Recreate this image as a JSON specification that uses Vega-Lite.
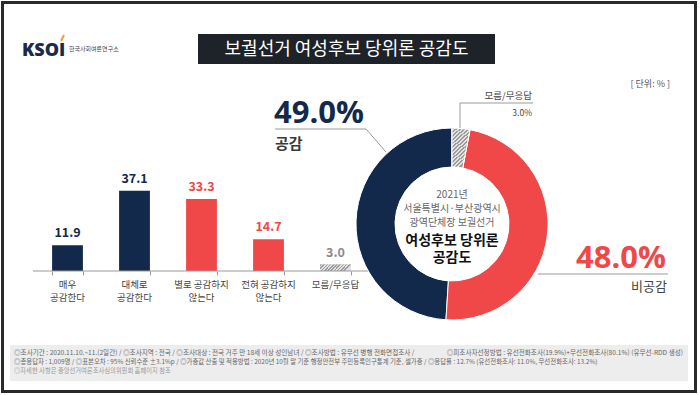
{
  "$schema": "https://vega.github.io/schema/vega-lite/v6.json",
  "width": 700,
  "height": 395,
  "autosize": {"type": "none"},
  "padding": 0,
  "background": "white",
  "config": {"view": {"stroke": null}, "font": "Noto Sans CJK KR", "text": {"font": "Noto Sans CJK KR"}},
  "datasets": {
    "bars": [
      {"category": "매우\n공감한다", "value": 11.9, "group": "공감"},
      {"category": "대체로\n공감한다", "value": 37.1, "group": "공감"},
      {"category": "별로 공감하지\n않는다", "value": 33.3, "group": "비공감"},
      {"category": "전혀 공감하지\n않는다", "value": 14.7, "group": "비공감"},
      {"category": "모름/무응답", "value": 3.0, "group": "모름/무응답"}
    ],
    "donut": [
      {"group": "공감", "pct": 49.0},
      {"group": "비공감", "pct": 48.0},
      {"group": "모름/무응답", "pct": 3.0}
    ]
  },
  "layer": [
    {"data": {"values": [{}]}, "mark": {"type": "rect", "x": 10, "y": 345, "x2": 688, "y2": 381, "fill": "#ededed"}, "encoding": {}},
    {"data": {"values": [{}]}, "mark": {"type": "rect", "x": 198, "y": 34, "x2": 495, "y2": 64, "fill": "#1e2229"}, "encoding": {}},
    {"data": {"values": [{}]}, "mark": {"type": "text", "x": 346.5, "y": 49.5, "align": "center", "baseline": "middle", "fontSize": 18, "fill": "white", "text": "보궐선거 여성후보 당위론 공감도"}, "encoding": {}},
    {"data": {"values": [{}]}, "mark": {"type": "text", "x": 22, "y": 51, "align": "left", "baseline": "middle", "fontSize": 18, "fontWeight": 900, "font": "Open Sans", "fill": "#1b2a4a", "text": "KSOI"}, "encoding": {}},
    {"data": {"values": [{}]}, "mark": {"type": "rule", "stroke": "#f0a020", "strokeWidth": 2}, "encoding": {"x": {"value": 61}, "y": {"value": 41}, "x2": {"value": 64}, "y2": {"value": 35}}},
    {"data": {"values": [{}]}, "mark": {"type": "text", "x": 69, "y": 49, "align": "left", "baseline": "middle", "fontSize": 6, "fill": "#444", "text": "한국사회여론연구소"}, "encoding": {}},
    {"data": {"values": [{}]}, "mark": {"type": "text", "x": 670, "y": 84, "align": "right", "baseline": "middle", "fontSize": 9, "fill": "#555", "text": "[ 단위: % ]"}, "encoding": {}},
    {
      "data": {"name": "bars"},
      "mark": {"type": "bar"},
      "encoding": {
        "x": {"field": "category", "type": "nominal", "sort": null,
          "scale": {"range": [34, 369], "paddingInner": 0.54, "paddingOuter": 0.27},
          "axis": {"labels": false, "title": null, "domain": false, "ticks": true, "grid": false, "tickColor": "#9a9a9a", "tickBand": "extent", "tickSize": 4, "offset": -124}},
        "y": {"field": "value", "type": "quantitative", "scale": {"domain": [0, 100], "range": [271, 55]}, "axis": null},
        "color": {"field": "group", "type": "nominal", "scale": {"domain": ["공감", "비공감", "모름/무응답"], "range": ["#13294b", "#f04848", "#b9b9b9"]}, "legend": null}
      }
    },
    {
      "data": {"name": "bars"},
      "transform": [{"filter": "datum.group === '모름/무응답'"}],
      "mark": {"type": "bar", "fill": {"gradient": "linear", "x1": 0, "y1": 0, "x2": 1, "y2": 0.2, "stops": [
        {"offset": 0, "color": "#9c9c9c"}, {"offset": 0.05, "color": "#9c9c9c"}, {"offset": 0.05, "color": "#e2e2e2"}, {"offset": 0.1, "color": "#e2e2e2"},
        {"offset": 0.1, "color": "#9c9c9c"}, {"offset": 0.15, "color": "#9c9c9c"}, {"offset": 0.15, "color": "#e2e2e2"}, {"offset": 0.2, "color": "#e2e2e2"},
        {"offset": 0.2, "color": "#9c9c9c"}, {"offset": 0.25, "color": "#9c9c9c"}, {"offset": 0.25, "color": "#e2e2e2"}, {"offset": 0.3, "color": "#e2e2e2"},
        {"offset": 0.3, "color": "#9c9c9c"}, {"offset": 0.35, "color": "#9c9c9c"}, {"offset": 0.35, "color": "#e2e2e2"}, {"offset": 0.4, "color": "#e2e2e2"},
        {"offset": 0.4, "color": "#9c9c9c"}, {"offset": 0.45, "color": "#9c9c9c"}, {"offset": 0.45, "color": "#e2e2e2"}, {"offset": 0.5, "color": "#e2e2e2"},
        {"offset": 0.5, "color": "#9c9c9c"}, {"offset": 0.55, "color": "#9c9c9c"}, {"offset": 0.55, "color": "#e2e2e2"}, {"offset": 0.6, "color": "#e2e2e2"},
        {"offset": 0.6, "color": "#9c9c9c"}, {"offset": 0.65, "color": "#9c9c9c"}, {"offset": 0.65, "color": "#e2e2e2"}, {"offset": 0.7, "color": "#e2e2e2"},
        {"offset": 0.7, "color": "#9c9c9c"}, {"offset": 0.75, "color": "#9c9c9c"}, {"offset": 0.75, "color": "#e2e2e2"}, {"offset": 0.8, "color": "#e2e2e2"},
        {"offset": 0.8, "color": "#9c9c9c"}, {"offset": 0.85, "color": "#9c9c9c"}, {"offset": 0.85, "color": "#e2e2e2"}, {"offset": 0.9, "color": "#e2e2e2"},
        {"offset": 0.9, "color": "#9c9c9c"}, {"offset": 0.95, "color": "#9c9c9c"}, {"offset": 0.95, "color": "#e2e2e2"}, {"offset": 1, "color": "#e2e2e2"}
      ]}},
      "encoding": {
        "x": {"field": "category", "type": "nominal", "sort": null},
        "y": {"field": "value", "type": "quantitative"}
      }
    },
    {"data": {"values": [{}]}, "mark": {"type": "rule", "stroke": "#9a9a9a", "strokeWidth": 1.2}, "encoding": {"x": {"value": 33}, "x2": {"value": 372}, "y": {"datum": 0, "type": "quantitative"}}},
    {
      "data": {"name": "bars"},
      "mark": {"type": "text", "baseline": "bottom", "dy": -5, "fontSize": 12.5, "fontWeight": "bold"},
      "encoding": {
        "x": {"field": "category", "type": "nominal", "sort": null},
        "y": {"field": "value", "type": "quantitative"},
        "text": {"field": "value", "type": "quantitative", "format": ".1f"},
        "color": {"condition": {"test": "datum.group === '모름/무응답'", "value": "#8a8a8a"}, "field": "group", "type": "nominal"}
      }
    },
    {
      "data": {"name": "bars"},
      "mark": {"type": "text", "baseline": "top", "dy": 9, "fontSize": 9.5, "lineBreak": "\n", "lineHeight": 12.5, "fill": "#444"},
      "encoding": {
        "x": {"field": "category", "type": "nominal", "sort": null},
        "y": {"datum": 0, "type": "quantitative"},
        "text": {"field": "category", "type": "nominal"}
      }
    },
    {
      "data": {"name": "donut"},
      "mark": {"type": "arc", "x": 452, "y": 224, "outerRadius": 96, "innerRadius": 57, "stroke": "white", "strokeWidth": 1},
      "encoding": {
        "theta": {"field": "pct", "type": "quantitative", "stack": true},
        "order": {"field": "pct", "type": "quantitative", "sort": "ascending"},
        "color": {"field": "group", "type": "nominal"}
      }
    },
    {
      "data": {"name": "donut"},
      "mark": {"type": "arc", "x": 452, "y": 224, "outerRadius": 96, "innerRadius": 57, "stroke": "white", "strokeWidth": 1,
        "fill": {"gradient": "linear", "x1": 0, "y1": 0, "x2": 0.4, "y2": 1, "stops": [
          {"offset": 0, "color": "#9c9c9c"}, {"offset": 0.04, "color": "#9c9c9c"}, {"offset": 0.04, "color": "#e2e2e2"}, {"offset": 0.08, "color": "#e2e2e2"},
          {"offset": 0.08, "color": "#9c9c9c"}, {"offset": 0.12, "color": "#9c9c9c"}, {"offset": 0.12, "color": "#e2e2e2"}, {"offset": 0.16, "color": "#e2e2e2"},
          {"offset": 0.16, "color": "#9c9c9c"}, {"offset": 0.2, "color": "#9c9c9c"}, {"offset": 0.2, "color": "#e2e2e2"}, {"offset": 0.24, "color": "#e2e2e2"},
          {"offset": 0.24, "color": "#9c9c9c"}, {"offset": 0.28, "color": "#9c9c9c"}, {"offset": 0.28, "color": "#e2e2e2"}, {"offset": 0.32, "color": "#e2e2e2"},
          {"offset": 0.32, "color": "#9c9c9c"}, {"offset": 0.36, "color": "#9c9c9c"}, {"offset": 0.36, "color": "#e2e2e2"}, {"offset": 0.4, "color": "#e2e2e2"},
          {"offset": 0.4, "color": "#9c9c9c"}, {"offset": 0.44, "color": "#9c9c9c"}, {"offset": 0.44, "color": "#e2e2e2"}, {"offset": 0.48, "color": "#e2e2e2"},
          {"offset": 0.48, "color": "#9c9c9c"}, {"offset": 0.52, "color": "#9c9c9c"}, {"offset": 0.52, "color": "#e2e2e2"}, {"offset": 0.56, "color": "#e2e2e2"},
          {"offset": 0.56, "color": "#9c9c9c"}, {"offset": 0.6, "color": "#9c9c9c"}, {"offset": 0.6, "color": "#e2e2e2"}, {"offset": 0.64, "color": "#e2e2e2"},
          {"offset": 0.64, "color": "#9c9c9c"}, {"offset": 0.68, "color": "#9c9c9c"}, {"offset": 0.68, "color": "#e2e2e2"}, {"offset": 0.72, "color": "#e2e2e2"},
          {"offset": 0.72, "color": "#9c9c9c"}, {"offset": 0.76, "color": "#9c9c9c"}, {"offset": 0.76, "color": "#e2e2e2"}, {"offset": 0.8, "color": "#e2e2e2"},
          {"offset": 0.8, "color": "#9c9c9c"}, {"offset": 0.84, "color": "#9c9c9c"}, {"offset": 0.84, "color": "#e2e2e2"}, {"offset": 0.88, "color": "#e2e2e2"},
          {"offset": 0.88, "color": "#9c9c9c"}, {"offset": 0.92, "color": "#9c9c9c"}, {"offset": 0.92, "color": "#e2e2e2"}, {"offset": 0.96, "color": "#e2e2e2"},
          {"offset": 0.96, "color": "#9c9c9c"}, {"offset": 1, "color": "#9c9c9c"}
        ]}},
      "encoding": {
        "theta": {"field": "pct", "type": "quantitative", "stack": true},
        "order": {"field": "pct", "type": "quantitative", "sort": "ascending"},
        "opacity": {"condition": {"test": "datum.group === '모름/무응답'", "value": 1}, "value": 0}
      }
    },
    {"data": {"values": [{}]}, "mark": {"type": "rule", "stroke": "#9a9a9a", "strokeWidth": 1}, "encoding": {"x": {"value": 275}, "y": {"value": 129}, "x2": {"value": 366}, "y2": {"value": 129}}},
    {"data": {"values": [{}]}, "mark": {"type": "rule", "stroke": "#9a9a9a", "strokeWidth": 1}, "encoding": {"x": {"value": 366}, "y": {"value": 129}, "x2": {"value": 386}, "y2": {"value": 152}}},
    {"data": {"values": [{}]}, "mark": {"type": "rule", "stroke": "#9a9a9a", "strokeWidth": 1}, "encoding": {"x": {"value": 538}, "y": {"value": 274}, "x2": {"value": 668}, "y2": {"value": 274}}},
    {"data": {"values": [{}]}, "mark": {"type": "rule", "stroke": "#9a9a9a", "strokeWidth": 1}, "encoding": {"x": {"value": 460}, "y": {"value": 128}, "x2": {"value": 460}, "y2": {"value": 103}}},
    {"data": {"values": [{}]}, "mark": {"type": "rule", "stroke": "#9a9a9a", "strokeWidth": 1}, "encoding": {"x": {"value": 460}, "y": {"value": 103}, "x2": {"value": 533}, "y2": {"value": 103}}},
    {"data": {"values": [{}]}, "mark": {"type": "text", "x": 274, "y": 123, "align": "left", "baseline": "alphabetic", "fontSize": 31, "fontWeight": "bold", "font": "Open Sans", "fill": "#13294b", "text": "49.0%"}, "encoding": {}},
    {"data": {"values": [{}]}, "mark": {"type": "text", "x": 275, "y": 143.5, "align": "left", "baseline": "middle", "fontSize": 15, "fontWeight": "bold", "fill": "#3a3a3a", "text": "공감"}, "encoding": {}},
    {"data": {"values": [{}]}, "mark": {"type": "text", "x": 666, "y": 268, "align": "right", "baseline": "alphabetic", "fontSize": 31, "fontWeight": "bold", "font": "Open Sans", "fill": "#f04848", "text": "48.0%"}, "encoding": {}},
    {"data": {"values": [{}]}, "mark": {"type": "text", "x": 667, "y": 287, "align": "right", "baseline": "middle", "fontSize": 13, "fill": "#444", "text": "비공감"}, "encoding": {}},
    {"data": {"values": [{}]}, "mark": {"type": "text", "x": 532, "y": 96, "align": "right", "baseline": "middle", "fontSize": 9.5, "fill": "#444", "text": "모름/무응답"}, "encoding": {}},
    {"data": {"values": [{}]}, "mark": {"type": "text", "x": 532, "y": 112.5, "align": "right", "baseline": "middle", "fontSize": 8.5, "fill": "#444", "text": "3.0%"}, "encoding": {}},
    {"data": {"values": [{}]}, "mark": {"type": "text", "x": 452, "y": 195, "align": "center", "baseline": "middle", "fontSize": 10, "lineBreak": "\n", "lineHeight": 13.8, "fill": "#666", "text": "2021년\n서울특별시·부산광역시\n광역단체장 보궐선거"}, "encoding": {}},
    {"data": {"values": [{}]}, "mark": {"type": "text", "x": 452, "y": 241, "align": "center", "baseline": "middle", "fontSize": 14, "fontWeight": "bold", "lineBreak": "\n", "lineHeight": 16.5, "fill": "#111", "text": "여성후보 당위론\n공감도"}, "encoding": {}},
    {"data": {"values": [{}]}, "mark": {"type": "text", "x": 14, "y": 353, "align": "left", "baseline": "middle", "fontSize": 6.6, "fill": "#666", "text": "◎조사기간 : 2020.11.10.~11.(2일간)   / ◎조사지역 : 전국 / ◎조사대상 : 전국 거주 만 18세 이상 성인남녀 / ◎조사방법 : 유무선 병행 전화면접조사 /"}, "encoding": {}},
    {"data": {"values": [{}]}, "mark": {"type": "text", "x": 683, "y": 353, "align": "right", "baseline": "middle", "fontSize": 6.6, "fill": "#666", "text": "◎피조사자선정방법 : 유선전화조사(19.9%)+무선전화조사(80.1%)   (유무선-RDD 생성)"}, "encoding": {}},
    {"data": {"values": [{}]}, "mark": {"type": "text", "x": 14, "y": 362, "align": "left", "baseline": "middle", "fontSize": 6.4, "fill": "#666", "text": "◎총응답자 : 1,009명 / ◎표본오차 : 95% 신뢰수준 ±3.1%p / ◎가중값 산출 및 적용방법 : 2020년 10월 말 기준 행정안전부 주민등록인구통계 기준, 셀가중 / ◎응답률 : 12.7% (유선전화조사: 11.0%, 무선전화조사: 13.2%)"}, "encoding": {}},
    {"data": {"values": [{}]}, "mark": {"type": "text", "x": 14, "y": 371, "align": "left", "baseline": "middle", "fontSize": 6.3, "fill": "#999", "text": "◎자세한 사항은 중앙선거여론조사심의위원회 홈페이지 참조"}, "encoding": {}},
    {"data": {"values": [{}]}, "mark": {"type": "rect", "x": 2.5, "y": 2.5, "x2": 695.5, "y2": 391.5, "fill": "transparent", "stroke": "#2a2a2a", "strokeWidth": 3}, "encoding": {}}
  ]
}
